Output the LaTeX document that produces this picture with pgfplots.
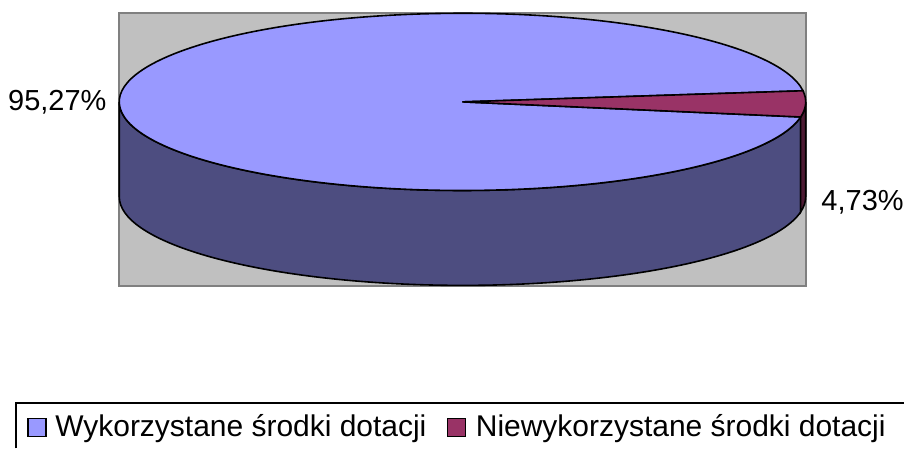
\documentclass[border=0pt]{standalone}
\usepackage{fontspec}
\setmainfont{Liberation Sans}
\usepackage{pgfplots}
\pgfplotsset{compat=1.18}
\definecolor{topA}{HTML}{9999FF}
\definecolor{sideA}{HTML}{4D4D80}
\definecolor{topB}{HTML}{993366}
\definecolor{sideB}{HTML}{4D1A33}
\definecolor{bgGray}{HTML}{C0C0C0}
\definecolor{bgBorder}{HTML}{808080}
% data (percent)
\def\valA{95.27}
\def\valB{4.73}
\begin{document}
\begin{tikzpicture}
\begin{axis}[
  x=0.5bp, y=0.5bp,
  xmin=0, xmax=905, ymin=0, ymax=449,
  hide axis, clip=false,
]
% fix the bounding box to the full canvas
\path (axis cs:0,0) rectangle (axis cs:905,449);
% geometry (axis units = pixels of reference)
\pgfmathsetmacro\cx{463}
\pgfmathsetmacro\cy{347}
\pgfmathsetmacro\Rx{343.6}
\pgfmathsetmacro\Ry{88.7}
\def\rx{171.8bp}
\def\ry{44.35bp}
\def\dep{47.5bp}
% angles from data
\pgfmathsetmacro\sB{7.2}
\pgfmathsetmacro\eB{\sB-360*\valB/100}
\pgfmathsetmacro\eA{\eB+360}
\pgfmathsetmacro\xB{\cx+\Rx*cos(\eB)}
\pgfmathsetmacro\yB{\cy+\Ry*sin(\eB)}
\pgfmathsetmacro\xS{\cx+\Rx*cos(\sB)}
\pgfmathsetmacro\yS{\cy+\Ry*sin(\sB)}
\pgfmathsetmacro\xL{\cx-\Rx}
% plot area
\fill[bgGray, draw=bgBorder, line width=1bp] (axis cs:119.5,163) rectangle (axis cs:806.7,435.7);
% side walls
\filldraw[fill=sideA, draw=black, line width=0.8bp]
  (axis cs:\xL,\cy) arc[start angle=180, end angle=\eA, x radius=\rx, y radius=\ry]
  -- ++(0bp,-\dep) arc[start angle=\eA, end angle=180, x radius=\rx, y radius=\ry] -- cycle;
\filldraw[fill=sideB, draw=black, line width=0.8bp]
  (axis cs:\xB,\yB) arc[start angle=\eB, end angle=0, x radius=\rx, y radius=\ry]
  -- ++(0bp,-\dep) arc[start angle=0, end angle=\eB, x radius=\rx, y radius=\ry] -- cycle;
% top faces
\filldraw[fill=topA, draw=black, line width=0.8bp]
  (axis cs:\cx,\cy) -- (axis cs:\xS,\yS) arc[start angle=\sB, end angle=\eA, x radius=\rx, y radius=\ry] -- cycle;
\filldraw[fill=topB, draw=black, line width=0.8bp]
  (axis cs:\cx,\cy) -- (axis cs:\xB,\yB) arc[start angle=\eB, end angle=\sB, x radius=\rx, y radius=\ry] -- cycle;
% data labels
\node[anchor=base east, inner sep=0pt, font=\fontsize{14.5bp}{17bp}\selectfont] at (axis cs:107,338) {95,27\%};
\node[anchor=base west, inner sep=0pt, font=\fontsize{14.5bp}{17bp}\selectfont] at (axis cs:822,238) {4,73\%};
% legend
\draw[black, line width=1bp] (axis cs:16,0) -- (axis cs:16,46) -- (axis cs:905,46);
\filldraw[fill=topA, draw=black, line width=0.8bp] (axis cs:28,12) rectangle (axis cs:46,30);
\node[anchor=base west, inner sep=0pt, font=\fontsize{15bp}{18bp}\selectfont] at (axis cs:55,12) {Wykorzystane środki dotacji};
\filldraw[fill=topB, draw=black, line width=0.8bp] (axis cs:448,12) rectangle (axis cs:466,30);
\node[anchor=base west, inner sep=0pt, font=\fontsize{15bp}{18bp}\selectfont] at (axis cs:476,12) {Niewykorzystane środki dotacji};
\end{axis}
\end{tikzpicture}
\end{document}
